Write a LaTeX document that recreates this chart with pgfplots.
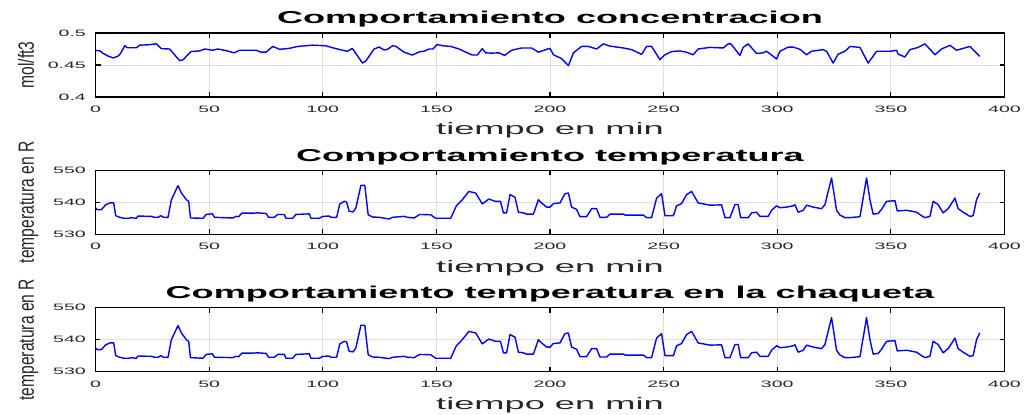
\documentclass[border=0pt]{standalone}
\usepackage{pgfplots}
\pgfplotsset{compat=1.18}
\usepackage{pgfplotstable}
\usepackage{graphicx}
\usepackage{fontspec}
\setmainfont{Liberation Sans}

\definecolor{ticktext}{RGB}{38,38,38}
\definecolor{gridgray}{RGB}{222,222,222}

% concentration [mol/ft3] vs time [min]
\pgfplotstableread{
t c
0 0.4729
2 0.4720
3.4 0.4680
5.5 0.4640
7.8 0.4610
10 0.4640
11 0.4680
12.9 0.4800
14 0.4770
18 0.4770
19.5 0.4810
23 0.4815
26.8 0.4830
29 0.4755
32.6 0.4750
37 0.4570
38.5 0.4580
42 0.4710
45.8 0.4720
48 0.4750
51.6 0.4730
53.8 0.4750
57.5 0.4725
61 0.4690
63.4 0.4730
70.7 0.4730
72.9 0.4700
75 0.4700
78 0.4790
81 0.4745
85.3 0.4760
89 0.4790
95.5 0.4810
101.4 0.4800
104.3 0.4770
108.7 0.4730
110.9 0.4715
113 0.4760
117.5 0.4530
119 0.4565
122.6 0.4750
124.8 0.4780
127 0.4735
128.5 0.4745
130.7 0.4800
132 0.4795
135.8 0.4700
139.4 0.4655
142.4 0.4705
144.5 0.4715
146.8 0.4750
148.5 0.4750
150.3 0.4820
153 0.4800
156.3 0.4790
160 0.4750
163 0.4700
165.8 0.4656
168 0.4656
170.2 0.4755
171.7 0.4690
174 0.4685
177.5 0.4690
180 0.4650
183.1 0.4730
187.5 0.4766
191.9 0.4766
194.9 0.4700
198.5 0.4745
200 0.4760
201.5 0.4660
205.1 0.4600
208.1 0.4490
210.3 0.4690
213.9 0.4790
216.9 0.4790
220.5 0.4750
223.5 0.4830
226.4 0.4795
232.3 0.4766
235.9 0.4740
238.9 0.4690
240.3 0.4665
242.5 0.4790
244.7 0.4790
248.4 0.4583
250.6 0.4660
253.5 0.4710
257.2 0.4720
260 0.4700
263 0.4660
265.2 0.4750
270.4 0.4775
276.2 0.4766
278.4 0.4830
279.6 0.4830
283.6 0.4650
285 0.4775
287.2 0.4830
290.9 0.4680
293.8 0.4690
295.3 0.4715
299.7 0.4594
301.2 0.4715
304.8 0.4780
307 0.4780
310 0.4745
312.9 0.4660
315.1 0.4715
320.2 0.4740
321.7 0.4715
324.6 0.4530
326.8 0.4670
329.8 0.4715
332 0.4790
336.4 0.4775
340 0.4530
343.7 0.4714
349.6 0.4714
352.5 0.4730
353.2 0.4670
356.2 0.4625
358.4 0.4740
362 0.4775
365 0.4830
369.4 0.4660
372.3 0.4750
376 0.4807
378.9 0.4730
384.8 0.4790
389.1 0.4635
}\conctable

% reactor temperature T and jacket temperature Tj [R] vs time [min]
\pgfplotstableread{
t T Tj
0 538.3 537.5
0.7 537.7 536.9
2.6 537.7 536.9
4.5 539.2 538.4
6.3 539.8 539.0
8.0 539.8 539.0
8.9 535.8 535.0
10.7 535.3 534.5
12.4 535.0 534.2
15.0 535.0 534.2
15.4 535.2 534.4
18.0 535.0 534.2
18.7 535.7 534.9
24.6 535.6 534.8
26.0 535.3 534.5
27.5 535.3 534.5
28.7 535.8 535.0
30.0 535.3 534.5
31.9 535.3 534.5
33.4 540.8 540.0
36.3 545.2 544.4
37.8 542.9 542.1
40.0 540.8 540.0
41.0 540.3 539.5
41.8 535.1 534.4
47.3 535.0 534.2
48.7 536.2 535.4
51.4 536.4 535.6
52.4 535.3 534.5
60.4 535.1 534.4
61.9 535.6 534.8
63.0 535.5 534.7
64.4 536.6 535.8
69.2 536.6 535.8
71.4 536.7 535.9
75.1 536.5 535.7
76.2 535.3 534.5
78.7 535.3 534.5
80.2 536.2 535.4
83.1 536.2 535.4
83.8 535.0 534.2
86.8 535.0 534.2
88.2 536.2 535.4
94.1 536.4 535.6
94.8 535.0 534.2
98.5 535.0 534.2
100.0 535.6 534.8
102.9 535.7 534.9
103.6 535.3 534.5
106.1 535.3 534.5
107.5 539.5 538.7
109.5 540.3 539.5
110.5 540.1 539.3
111.6 537.2 536.4
113.4 537.0 536.2
114.6 538.3 537.5
116.8 545.3 544.5
118.5 545.3 544.5
120.0 536.1 535.3
121.9 535.4 534.6
124.8 535.3 534.5
129.2 534.8 534.1
130.7 535.3 534.5
135.8 535.6 534.8
137.3 535.3 534.5
140.2 535.1 534.4
142.7 536.2 535.4
147.5 536.1 535.3
149.7 535.0 534.2
156.3 535.0 534.2
158.8 538.9 538.1
161.4 540.8 540.0
164.3 543.4 542.6
167.3 542.9 542.1
170.2 539.5 538.7
173.1 541.0 540.2
176.0 540.3 539.5
178.2 540.3 539.5
179.5 536.7 535.9
180.9 536.7 535.9
182.4 542.4 541.6
184.6 541.6 540.8
186.1 536.9 536.1
188.3 536.7 535.9
189.7 536.3 535.5
192.7 536.3 535.5
194.9 540.8 540.0
196.3 539.8 539.0
198.5 538.5 537.7
200.0 538.5 537.7
201.5 539.6 538.8
204.4 539.8 539.0
206.6 542.7 541.9
208.1 542.9 542.1
209.5 538.5 537.7
211.7 537.8 537.0
213.2 535.5 534.7
216.1 535.5 534.7
218.3 538.0 537.2
220.5 538.0 537.2
222.0 535.3 534.6
224.9 535.3 534.6
226.4 536.3 535.5
232.3 536.3 535.5
233.0 536.0 535.2
241.1 536.0 535.2
242.5 535.2 534.4
244.7 535.2 534.4
246.9 541.3 540.5
249.1 542.7 541.9
250.6 535.8 535.0
254.3 535.8 535.0
255.7 538.9 538.1
257.9 539.6 538.8
260.1 542.4 541.6
262.3 543.4 542.6
265.2 539.8 539.0
270.4 539.1 538.3
275.5 539.2 538.4
277.0 535.2 534.4
279.2 535.2 534.4
281.4 539.3 538.5
282.8 539.3 538.5
283.9 535.2 534.4
287.2 535.2 534.4
288.7 536.7 535.9
290.9 536.9 536.1
292.4 535.6 534.8
296.0 535.6 534.8
297.5 537.5 536.7
299.7 538.9 538.1
301.2 538.3 537.5
304.1 538.5 537.7
307.0 538.9 538.1
307.8 539.2 538.4
309.2 536.9 536.1
311.4 537.5 536.7
312.9 539.1 538.3
315.8 538.5 537.7
319.5 538.0 537.2
321.0 539.3 538.5
323.9 547.6 546.9
326.1 537.5 536.7
327.6 536.0 535.2
329.8 535.2 534.4
332.0 535.2 534.4
336.4 535.5 534.7
339.3 547.6 546.9
340.8 540.8 540.0
342.2 536.3 535.5
344.4 536.5 535.7
345.9 537.8 537.0
348.1 540.3 539.5
351.8 540.5 539.7
352.8 537.3 536.5
356.9 537.5 536.7
361.3 536.9 536.1
363.5 535.8 535.0
365.0 535.2 534.4
367.2 535.6 534.8
368.6 540.3 539.5
370.8 539.3 538.5
373.0 536.7 535.9
375.2 538.0 537.2
378.2 541.3 540.5
379.6 538.0 537.2
381.8 536.9 536.1
384.8 535.6 534.8
386.2 535.8 535.0
387.7 540.8 540.0
389.1 542.9 542.1
}\temptable

\pgfplotsset{
  panel/.style={
    scale only axis, width=909pt, height=64pt,
    xmin=0, xmax=400, xtick={0,50,...,400},
    grid=major,
    major grid style={line width=0.9pt, gridgray},
    axis line style={line width=1.1pt, black},
    tick style={line width=1.1pt, black},
    major tick length=5pt,
    tick align=inside,
    xtick pos=both, ytick pos=both,
    xticklabel={\scalebox{2.1}[1]{\pgfmathprintnumber[assume math mode=true]{\tick}}},
    yticklabel={\scalebox{2.1}[1]{\pgfmathprintnumber[assume math mode=true]{\tick}}},
    tick label style={font=\fontsize{9.3}{10}\selectfont, text=ticktext, inner sep=0pt},
    xticklabel style={anchor=north, yshift=-9pt},
    yticklabel style={anchor=east, xshift=-9.5pt},
    every axis title/.style={at={(axis description cs:0.5,1)}, anchor=base, yshift=9pt,
      font=\fontsize{17.2}{20}\selectfont\bfseries, text=black},
    every axis x label/.style={at={(axis description cs:0.5,0)}, anchor=base, yshift=-38pt,
      font=\fontsize{16.7}{18}\selectfont, text=ticktext},
    every axis y label/.style={at={(axis description cs:0,0.5)}, xshift=-61.5pt, rotate=90,
      anchor=base, font=\fontsize{22}{24}\selectfont, text=ticktext},
    xlabel={\scalebox{2.17}[1]{tiempo en min}},
  },
  curve/.style={blue, line width=1.4pt, line join=round},
}

\begin{document}
\begin{tikzpicture}
\path[use as bounding box] (0,0) rectangle (1029pt,415pt);

\begin{axis}[panel, at={(95.5pt,318pt)}, anchor=south west,
  ymin=0.4, ymax=0.5, ytick={0.4,0.45,0.5},
  title={\scalebox{2.1}[1]{Comportamiento concentracion}},
  ylabel={\scalebox{0.71}[1]{mol/ft3}}]
  \addplot[curve] table[x=t, y=c] {\conctable};
\end{axis}

\begin{axis}[panel, at={(95.5pt,180.7pt)}, anchor=south west,
  ymin=530, ymax=550, ytick={530,540,550},
  title={\scalebox{2.1}[1]{Comportamiento temperatura}},
  ylabel={\scalebox{0.71}[1]{temperatura en R}}]
  \addplot[curve] table[x=t, y=T] {\temptable};
\end{axis}

\begin{axis}[panel, at={(95.5pt,43.3pt)}, anchor=south west,
  ymin=530, ymax=550, ytick={530,540,550},
  title={\scalebox{2.1}[1]{Comportamiento temperatura en la chaqueta}},
  ylabel={\scalebox{0.71}[1]{temperatura en R}}]
  \addplot[curve] table[x=t, y=Tj] {\temptable};
\end{axis}
\end{tikzpicture}
\end{document}
